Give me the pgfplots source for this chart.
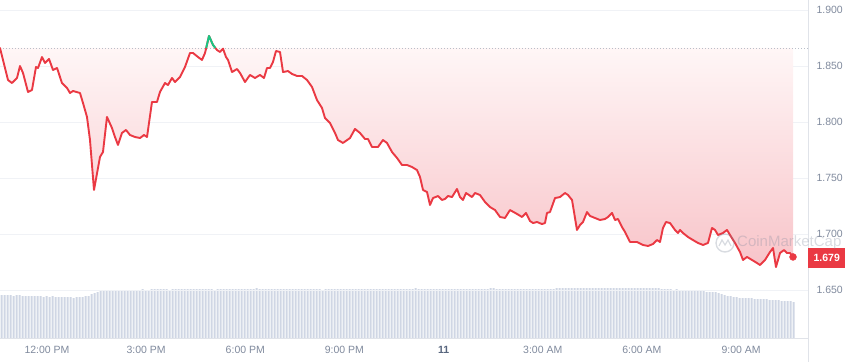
\documentclass[border=0pt]{standalone}
\usepackage{fontspec}
\setmainfont{Liberation Sans}
\usepackage{pgfplots}
\usepackage{pgfplotstable}
\pgfplotsset{compat=1.18}
\definecolor{cmcred}{RGB}{234,57,67}
\definecolor{cmcgreen}{RGB}{22,199,132}
\definecolor{lblgray}{RGB}{128,138,157}
\definecolor{datecol}{RGB}{88,102,126}
\definecolor{volcol}{RGB}{207,214,228}
\definecolor{gridcol}{RGB}{240,242,246}
\definecolor{linecol}{RGB}{224,227,233}
\definecolor{fillbot}{RGB}{248,196,201}
\definecolor{filltop}{RGB}{255,249,249}

\pgfplotstableread{
h p
-1.422 1.8661
-1.180 1.8375
-1.059 1.8348
-0.908 1.8393
-0.817 1.8500
-0.726 1.8438
-0.575 1.8268
-0.454 1.8286
-0.333 1.8491
-0.272 1.8482
-0.151 1.8580
-0.061 1.8527
0.061 1.8563
0.182 1.8464
0.303 1.8482
0.454 1.8348
0.605 1.8304
0.696 1.8259
0.787 1.8277
0.998 1.8259
1.089 1.8170
1.210 1.8045
1.301 1.7839
1.422 1.7393
1.604 1.7688
1.694 1.7732
1.815 1.8045
1.967 1.7946
2.057 1.7866
2.148 1.7795
2.269 1.7902
2.390 1.7929
2.511 1.7884
2.663 1.7866
2.814 1.7857
2.935 1.7884
3.026 1.7866
3.177 1.8179
3.328 1.8179
3.419 1.8268
3.570 1.8348
3.661 1.8330
3.782 1.8393
3.873 1.8357
4.024 1.8402
4.175 1.8491
4.327 1.8616
4.418 1.8616
4.569 1.8580
4.690 1.8554
4.781 1.8616
4.817 1.8661
4.902 1.8768
5.023 1.8688
5.095 1.8661
5.144 1.8643
5.234 1.8625
5.325 1.8655
5.416 1.8580
5.477 1.8554
5.598 1.8446
5.749 1.8473
5.840 1.8438
5.991 1.8357
6.142 1.8420
6.293 1.8393
6.445 1.8420
6.566 1.8393
6.657 1.8482
6.747 1.8482
6.838 1.8536
6.929 1.8634
7.050 1.8625
7.141 1.8446
7.292 1.8455
7.413 1.8429
7.564 1.8411
7.716 1.8411
7.867 1.8375
8.018 1.8313
8.169 1.8196
8.321 1.8125
8.411 1.8036
8.563 1.7991
8.714 1.7902
8.805 1.7839
8.956 1.7813
9.168 1.7857
9.319 1.7938
9.470 1.7902
9.622 1.7848
9.713 1.7848
9.834 1.7777
10.015 1.7777
10.166 1.7839
10.287 1.7813
10.439 1.7732
10.590 1.7679
10.741 1.7616
10.893 1.7616
11.044 1.7598
11.195 1.7571
11.286 1.7509
11.377 1.7393
11.498 1.7375
11.589 1.7259
11.679 1.7321
11.831 1.7339
11.952 1.7304
12.042 1.7313
12.133 1.7339
12.254 1.7330
12.405 1.7402
12.496 1.7330
12.587 1.7304
12.678 1.7366
12.859 1.7330
12.950 1.7366
13.101 1.7348
13.253 1.7286
13.404 1.7241
13.555 1.7214
13.707 1.7152
13.858 1.7143
14.009 1.7214
14.221 1.7179
14.372 1.7152
14.493 1.7188
14.614 1.7116
14.705 1.7098
14.826 1.7107
14.977 1.7089
15.068 1.7098
15.129 1.7188
15.219 1.7196
15.371 1.7321
15.522 1.7330
15.673 1.7366
15.764 1.7348
15.885 1.7304
16.036 1.7036
16.127 1.7080
16.218 1.7107
16.339 1.7196
16.430 1.7161
16.581 1.7143
16.732 1.7125
16.884 1.7134
16.975 1.7152
17.096 1.7188
17.186 1.7125
17.277 1.7134
17.398 1.7062
17.489 1.7018
17.640 1.6929
17.852 1.6929
18.034 1.6902
18.185 1.6893
18.336 1.6911
18.457 1.6946
18.548 1.6929
18.638 1.7054
18.729 1.7107
18.850 1.7098
19.002 1.7036
19.092 1.7009
19.153 1.7036
19.244 1.7009
19.395 1.6973
19.546 1.6946
19.697 1.6920
19.849 1.6902
20.000 1.6920
20.121 1.7054
20.212 1.7036
20.303 1.6991
20.454 1.7009
20.575 1.7036
20.666 1.6991
20.817 1.6920
20.968 1.6839
21.059 1.6768
21.180 1.6795
21.331 1.6768
21.483 1.6741
21.573 1.6723
21.725 1.6768
21.876 1.6839
21.967 1.6875
22.057 1.6705
22.179 1.6830
22.300 1.6857
22.390 1.6830
22.481 1.6830
22.572 1.6795
}\pricedata

\pgfplotstableread{
v
43
43
43
43
42
43
43
42
42
42
42
42
42
42
41
42
41
42
41
41
41
41
41
41
40
41
41
41
42
42
44
45
46
47
47
47
47
48
47
48
48
48
48
48
48
48
48
49
48
48
49
49
49
49
49
49
48
49
49
49
49
49
49
49
49
49
49
49
49
49
49
48
49
49
49
49
49
49
49
49
49
49
49
49
49
50
49
49
49
49
49
49
49
49
49
49
49
49
49
49
49
49
49
49
49
49
49
48
49
49
49
49
49
49
49
49
49
49
49
49
49
49
49
49
49
49
49
49
49
49
49
49
49
49
49
49
49
49
50
49
49
49
49
49
49
49
49
49
49
49
49
49
49
49
49
49
49
49
49
49
49
49
49
50
50
49
49
49
49
49
49
49
49
49
49
49
49
49
49
49
49
49
49
49
49
50
50
50
50
50
50
50
50
50
50
50
50
50
50
50
50
50
50
50
50
50
50
50
50
50
50
50
50
50
50
50
50
50
50
50
49
49
49
49
48
49
48
48
48
48
48
47
47
47
47
46
46
46
46
45
44
43
42
42
41
41
40
40
40
40
40
39
39
39
39
39
38
38
38
38
37
37
37
37
36
}\voldata

\begin{document}
\begin{tikzpicture}
\useasboundingbox (0,0) rectangle (850pt,362pt);
\draw[linecol, line width=0.8pt] (808pt,0pt) -- (808pt,362pt);
% volume bars
\begin{axis}[at={(0pt,24pt)}, anchor=south west, scale only axis,
  width=808pt, height=338pt, xmin=-0.5, xmax=268.83, ymin=0, ymax=338, hide axis]
\addplot[ybar, bar width=2pt, fill=volcol, draw=none] table[x expr=\coordindex, y=v]{\voldata};
\end{axis}
% price
\begin{axis}[at={(0pt,24pt)}, anchor=south west, scale only axis,
  width=808pt, height=338pt,
  xmin=-1.422, xmax=23.026, ymin=1.60714, ymax=1.90893,
  axis x line*=bottom, axis y line*=right,
  x axis line style={draw=linecol, line width=0.8pt},
  y axis line style={draw=none},
  major tick length=0pt,
  clip=false,
  xtick={0,3,6,9,12,15,18,21},
  xticklabels={12:00 PM,3:00 PM,6:00 PM,9:00 PM,{\color{datecol}\bfseries 11},3:00 AM,6:00 AM,9:00 AM},
  ytick={1.65,1.7,1.75,1.8,1.85,1.9},
  yticklabel pos=right,
  ymajorgrids, grid style={gridcol, line width=0.7pt},
  /pgf/number format/assume math mode=true,
  ticklabel style={font=\fontsize{10.5}{12}\selectfont, text=lblgray},
  y tick label style={/pgf/number format/fixed, /pgf/number format/fixed zerofill, /pgf/number format/precision=3, anchor=west, xshift=5pt},
  x tick label style={yshift=-5pt},
]
\addplot[draw=none, top color=filltop, bottom color=fillbot] table[x=h, y=p]{\pricedata} -- (axis cs:22.572,1.8661) -- (axis cs:-1.422,1.8661) -- cycle;
\addplot[lblgray!55, dash pattern=on 1pt off 2pt, line width=0.7pt] coordinates {(-1.422,1.8661) (23.026,1.8661)};
\addplot[cmcred, line width=1.9pt, line join=round, line cap=round] table[x=h, y=p]{\pricedata};
\addplot[cmcgreen, line width=1.9pt, line join=round] coordinates {(4.817,1.8661) (4.902,1.8768) (5.023,1.8688) (5.095,1.8661)};
\addplot[only marks, mark=*, mark size=3.5pt, color=cmcred] coordinates {(22.572,1.6795)};
\node[fill=cmcred, text=white, font=\fontsize{10.5}{12}\selectfont\bfseries, minimum width=37pt, minimum height=20pt, inner sep=0pt, anchor=west] at (axis cs:23.026,1.679) {1.679};
\end{axis}
% watermark
\begin{scope}[opacity=0.3]
\draw[lblgray, line width=1.4pt] (725pt,119pt) circle (9pt);
\draw[lblgray, line width=1.2pt] (719pt,116pt) -- (722pt,122pt) -- (725pt,117pt) -- (728pt,122pt) -- (731pt,116pt);
\node[anchor=west, text=lblgray, font=\fontsize{15}{16}\selectfont, inner sep=0pt] at (737pt,119pt) {CoinMarketCap};
\end{scope}
\end{tikzpicture}
\end{document}
